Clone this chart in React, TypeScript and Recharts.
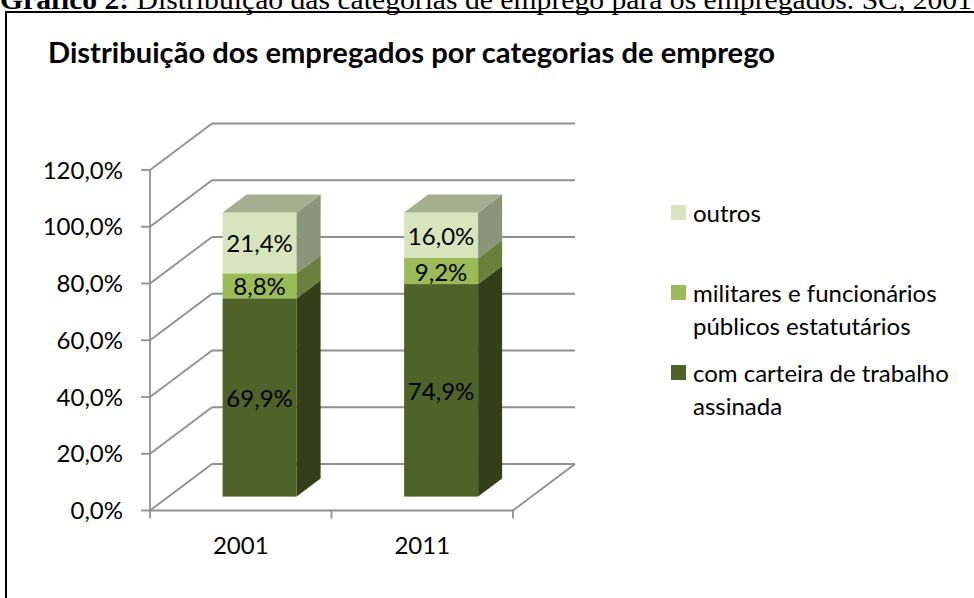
import { BarChart, Bar, XAxis, YAxis, CartesianGrid, Legend, LabelList } from 'recharts'

const years = ['2001', '2011']
const comCarteira = [69.9, 74.9]
const militares = [8.8, 9.2]
const outros = [21.4, 16.0]
const yTicks = [0, 20, 40, 60, 80, 100, 120]

const data = years.map((year, i) => ({
  year,
  comCarteira: comCarteira[i],
  militares: militares[i],
  outros: outros[i],
}))

const W = 974
const H = 598
const MARGIN = { top: 170, right: 461, bottom: 0, left: 0 }
const X_AXIS_H = 87.5
const PLOT_BOTTOM = H - MARGIN.bottom - X_AXIS_H

// 3d projection: back wall offset and bar placement inside the depth
const WALL_DX = 62
const WALL_DY = 46.5
const BAR_SHIFT_X = 18.6
const BAR_SHIFT_Y = 13.9
const BAR_DX = 24
const BAR_DY = 18

const GRID = '#8f8f8f'
const FONT = 'Lato, "Open Sans", sans-serif'

const fmt = (v: number) => v.toFixed(1).replace('.', ',') + '%'

function makeBlock(side: string, top: string | null) {
  return (props: any) => {
    const { x, y, width, height, fill } = props
    if (!height || height <= 0) return <g />
    const fx = x + BAR_SHIFT_X
    const fy = y - BAR_SHIFT_Y
    const r = fx + width
    return (
      <g>
        <rect x={fx} y={fy} width={width} height={height} fill={fill} />
        <polygon
          points={`${r},${fy} ${r + BAR_DX},${fy - BAR_DY} ${r + BAR_DX},${fy + height - BAR_DY} ${r},${fy + height}`}
          fill={side}
        />
        {top && (
          <polygon
            points={`${fx},${fy} ${fx + BAR_DX},${fy - BAR_DY} ${r + BAR_DX},${fy - BAR_DY} ${r},${fy}`}
            fill={top}
          />
        )}
      </g>
    )
  }
}

const darkBlock = makeBlock('#333f19', null)
const midBlock = makeBlock('#6a7f3b', null)
const lightBlock = makeBlock('#8b9579', '#a4af8f')

function ValueLabel(props: any) {
  const { x, y, width, height, value } = props
  if (value == null) return null
  return (
    <text
      x={x + BAR_SHIFT_X + width / 2}
      y={y - BAR_SHIFT_Y + height / 2}
      textAnchor="middle"
      dominantBaseline="central"
      fontSize={24}
      fill="#000"
      fontFamily={FONT}
    >
      {fmt(value)}
    </text>
  )
}

function WallLine(props: any) {
  const { x1, y1, x2 } = props
  const bx = x1 + WALL_DX
  const by = y1 - WALL_DY
  const floor = Math.abs(y1 - PLOT_BOTTOM) < 1
  return (
    <g key={props.key}>
      <line x1={x1} y1={y1} x2={bx} y2={by} stroke={GRID} strokeWidth={1.8} />
      <line x1={bx} y1={by} x2={x2 + WALL_DX} y2={by} stroke={GRID} strokeWidth={1.8} />
      {floor && (
        <line x1={x2} y1={y1} x2={x2 + WALL_DX} y2={by} stroke={GRID} strokeWidth={1.8} />
      )}
    </g>
  )
}

function YearTick(props: any) {
  const { x, y, payload, index, visibleTicksCount } = props
  const half = payload.offset || 90.75
  const last = index === visibleTicksCount - 1
  return (
    <g>
      <line x1={x - half} y1={y} x2={x - half} y2={y + 8} stroke={GRID} strokeWidth={1.8} />
      {last && <line x1={x + half} y1={y} x2={x + half} y2={y + 8} stroke={GRID} strokeWidth={1.8} />}
      <text x={x} y={y + 43} textAnchor="middle" fontSize={24} fill="#000" fontFamily={FONT}>
        {payload.value}
      </text>
    </g>
  )
}

function LegendBox(props: any) {
  const items = (props.payload || []).slice().reverse()
  return (
    <div style={{ fontFamily: FONT, fontSize: 24, lineHeight: '33px', color: '#000' }}>
      {items.map((it: any) => (
        <div key={it.value} style={{ display: 'flex', alignItems: 'flex-start', height: 80 }}>
          <span
            style={{
              width: 15,
              height: 15,
              marginTop: 9,
              marginRight: 7,
              background: it.color,
              flexShrink: 0,
            }}
          />
          <span style={{ width: 280 }}>{it.value}</span>
        </div>
      ))}
    </div>
  )
}

export default function App() {
  return (
    <div
      style={{
        position: 'absolute',
        left: 0,
        top: 0,
        width: W,
        height: H,
        overflow: 'hidden',
        background: '#fff',
        fontFamily: FONT,
      }}
    >
      <svg width={W} height={40} style={{ position: 'absolute', left: 0, top: 0 }}>
        <text
          x={0}
          y={9}
          fontSize={27}
          fontFamily='"Liberation Serif", "Times New Roman", serif'
          textLength={972}
          lengthAdjust="spacingAndGlyphs"
        >
          <tspan fontWeight="bold">Gráfico 2:</tspan> Distribuição das categorias de emprego para os empregados. SC, 2001
        </text>
      </svg>
      <div
        style={{
          position: 'absolute',
          left: 5,
          top: 11,
          width: 1100,
          height: 800,
          border: '2.5px solid #000',
        }}
      />
      <svg width={W} height={80} style={{ position: 'absolute', left: 0, top: 0 }}>
        <text x={48} y={63} fontSize={28} fontWeight="bold" fontFamily={FONT} textLength={727} lengthAdjust="spacingAndGlyphs">
          Distribuição dos empregados por categorias de emprego
        </text>
      </svg>
      <div style={{ position: 'absolute', left: 0, top: 0 }}>
        <BarChart width={W} height={H} data={data} margin={MARGIN} barSize={74}>
          <CartesianGrid vertical={false} horizontal={(p: any) => <WallLine {...p} />} />
          <XAxis
            dataKey="year"
            height={X_AXIS_H}
            axisLine={{ stroke: GRID, strokeWidth: 1.8 }}
            tickLine={false}
            tickSize={0}
            tickMargin={0}
            tick={<YearTick />}
            interval={0}
          />
          <YAxis
            width={150}
            domain={[0, 120]}
            ticks={yTicks}
            interval={0}
            tickFormatter={fmt}
            axisLine={{ stroke: GRID, strokeWidth: 1.8 }}
            tickLine={{ stroke: GRID, strokeWidth: 1.8 }}
            tickSize={9}
            tickMargin={18}
            tick={{ fill: '#000', fontSize: 24, fontFamily: FONT }}
          />
          <Legend
            layout="vertical"
            align="center"
            verticalAlign="middle"
            wrapperStyle={{ left: 671, top: 196, width: 300 }}
            content={<LegendBox />}
          />
          <Bar dataKey="comCarteira" name="com carteira de trabalho assinada" stackId="a" fill="#4f6228" shape={darkBlock} isAnimationActive={false}>
            <LabelList dataKey="comCarteira" content={<ValueLabel />} />
          </Bar>
          <Bar dataKey="militares" name="militares e funcionários públicos estatutários" stackId="a" fill="#9bbb59" shape={midBlock} isAnimationActive={false}>
            <LabelList dataKey="militares" content={<ValueLabel />} />
          </Bar>
          <Bar dataKey="outros" name="outros" stackId="a" fill="#d7e4bd" shape={lightBlock} isAnimationActive={false}>
            <LabelList dataKey="outros" content={<ValueLabel />} />
          </Bar>
        </BarChart>
      </div>
    </div>
  )
}
